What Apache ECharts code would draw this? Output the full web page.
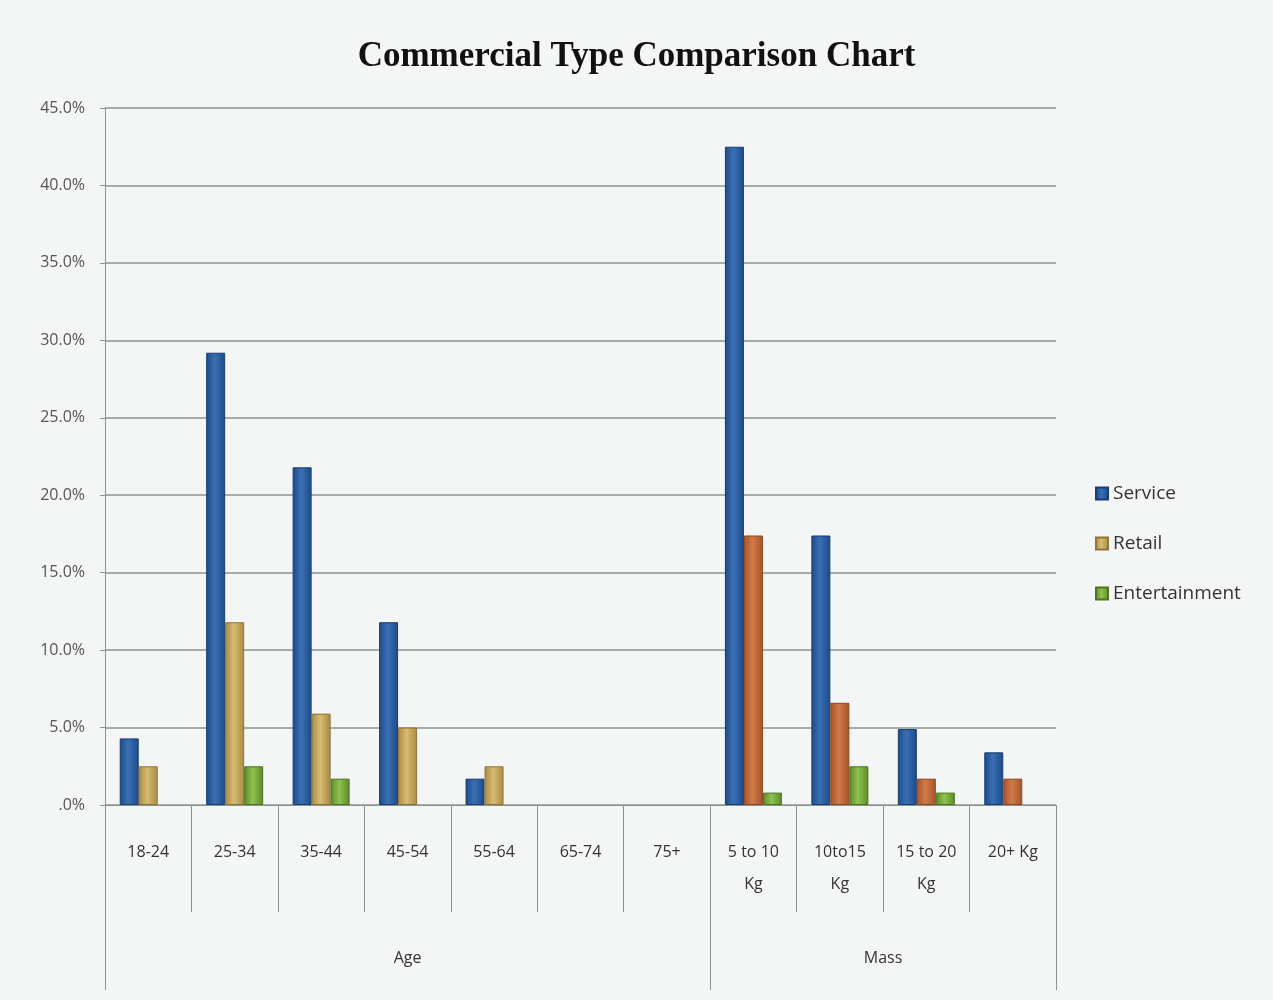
<!DOCTYPE html>
<html><head><meta charset="utf-8">
<script src="https://cdn.jsdelivr.net/npm/echarts@6/dist/echarts.min.js"></script>
<style>html,body{margin:0;padding:0;background:#f4f6f5}#c{width:1273px;height:1000px}</style>
</head><body><div id="c"></div>
<script>
var categories = ['18-24','25-34','35-44','45-54','55-64','65-74','75+','5 to 10\nKg','10to15\nKg','15 to 20\nKg','20+ Kg'];
var groupLabels = ['Age','Mass'];
var groupSizes = [7,4];
var seriesNames = ['Service','Retail','Entertainment'];
var service = [4.3, 29.2, 21.8, 11.8, 1.7, null, null, 42.5, 17.4, 4.9, 3.4];
var retail = [2.5, 11.8, 5.9, 5.0, 2.5, null, null, 17.4, 6.6, 1.7, 1.7];
var entertainment = [null, 2.5, 1.7, null, null, null, null, 0.8, 2.5, 0.8, null];
var yTicks = [0,5,10,15,20,25,30,35,40,45];

function grad(edge, mid){
  return {type:'linear',x:0,y:0,x2:1,y2:0,colorStops:[{offset:0,color:edge},{offset:0.45,color:mid},{offset:1,color:edge}]};
}
var blueC = grad('#1d4a88','#3a6fb5');
var tanC = grad('#a88a44','#d8bc72');
var orangeC = grad('#a4532a','#d27a48');
var greenC = grad('#5c8a28','#8fc24e');

var retailData = retail.map(function(v,i){
  return {value:v, itemStyle:{color: i < groupSizes[0] ? tanC : orangeC, borderColor: i < groupSizes[0] ? '#8f7538' : '#8e4622'}};
});
var groupBounds = [0, groupSizes[0], groupSizes[0]+groupSizes[1]];
var groupCenters = [groupSizes[0]/2, groupSizes[0] + groupSizes[1]/2];

var font = 'Open Sans';
var chart = echarts.init(document.getElementById('c'));
chart.setOption({
  backgroundColor:'#f4f6f5',
  animation:false,
  title:{text:'Commercial Type Comparison Chart',left:'center',top:34,
    textStyle:{fontFamily:'Liberation Serif',fontWeight:'bold',fontSize:35,color:'#111'}},
  legend:{orient:'vertical',left:1090,top:479,itemWidth:12,itemHeight:12,itemGap:31,
    icon:'rect',textStyle:{fontFamily:font,fontSize:19,color:'#333'},
    data:seriesNames},
  grid:{left:105,right:217,top:108,bottom:195},
  xAxis:[{
    type:'category',data:categories,position:'bottom',
    axisLine:{show:true,lineStyle:{color:'#8a948e'}},
    axisTick:{show:true,interval:0,length:107,lineStyle:{color:'#8a948e'}},
    axisLabel:{interval:0,margin:31,fontFamily:font,fontSize:16,color:'#333',lineHeight:32},
    splitLine:{show:false}
  },{
    type:'value',min:0,max:groupBounds[2],position:'bottom',
    axisLine:{show:false},
    axisTick:{show:true,length:185,customValues:groupBounds,lineStyle:{color:'#8a948e'}},
    axisLabel:{show:true,margin:145,customValues:groupCenters,fontFamily:font,fontSize:16,color:'#333',
      formatter:function(v){var i=groupCenters.indexOf(v);return i>=0?groupLabels[i]:'';}},
    splitLine:{show:false}
  }],
  yAxis:{type:'value',min:yTicks[0],max:yTicks[yTicks.length-1],interval:5,
    axisLine:{show:true,lineStyle:{color:'#8a948e'}},
    axisTick:{show:true,length:5,lineStyle:{color:'#8a948e'}},
    axisLabel:{margin:20,fontFamily:font,fontSize:16,color:'#555',
      formatter:function(v){return v===0?'.0%':v.toFixed(1)+'%';}},
    splitLine:{show:true,lineStyle:{color:'#8a948e',width:1.5}}
  },
  series:[
    {name:seriesNames[0],type:'bar',xAxisIndex:0,data:service,barWidth:19,barGap:'0%',
      itemStyle:{color:blueC,borderColor:'#173d72',borderWidth:1}},
    {name:seriesNames[1],type:'bar',xAxisIndex:0,data:retailData,barWidth:19,barGap:'0%',
      itemStyle:{color:tanC,borderColor:'#8f7538',borderWidth:1}},
    {name:seriesNames[2],type:'bar',xAxisIndex:0,data:entertainment,barWidth:19,barGap:'0%',
      itemStyle:{color:greenC,borderColor:'#4d7420',borderWidth:1}}
  ]
});
</script></body></html>
